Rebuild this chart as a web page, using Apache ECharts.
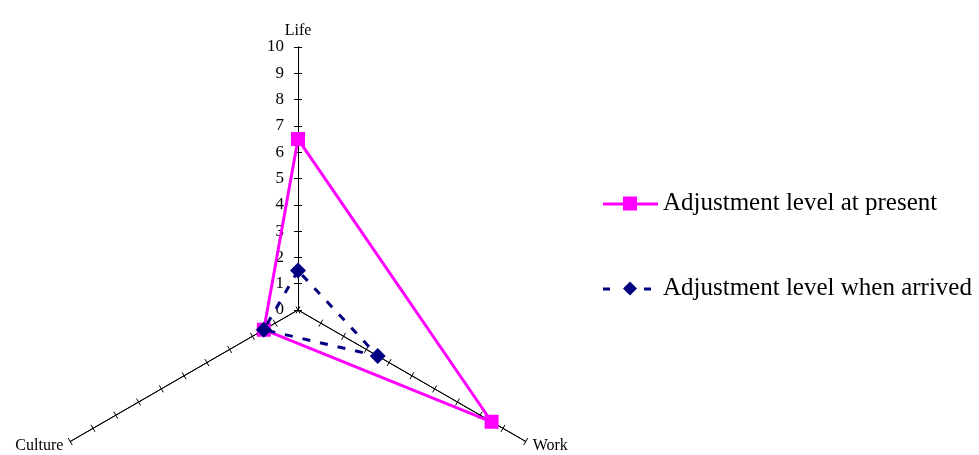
<!DOCTYPE html>
<html lang="en">
<head>
    <meta charset="UTF-8">
    <title>adjustment radar</title>
    <script src="https://cdn.jsdelivr.net/npm/echarts@6/dist/echarts.min.js"></script>
    <style>
        html, body { margin: 0; padding: 0; background: #fff; }
        #chart { width: 979px; height: 455px; }
    </style>
</head>
<body>
<div id="chart"></div>
<script>
    // axes of the radar (echarts lays them out counter-clockwise) and their range
    var dims = ['Life', 'Culture', 'Work'];
    var maxVal = 10;
    // values, same order as dims
    var present = [6.5, 1.5, 8.5];
    var arrived = [1.5, 1.5, 3.5];
    var names = ['Adjustment level at present', 'Adjustment level when arrived'];

    var font = '"Liberation Serif", "Times New Roman", serif';
    var center = [298, 310];
    var radius = 263;

    var indicator = dims.map(function (d) {
        return {name: d, min: 0, max: maxVal};
    });

    function radarBox(tickLen, showName) {
        return {
            center: center,
            radius: radius,
            startAngle: 90,
            splitNumber: 10,
            indicator: indicator,
            shape: 'polygon',
            axisName: {
                show: showName,
                color: '#000',
                fontFamily: font,
                fontSize: 16
            },
            nameGap: 8,
            axisLine: {lineStyle: {color: '#000', width: 1}},
            axisTick: {show: true, length: tickLen, lineStyle: {color: '#000', width: 1}},
            axisLabel: {show: false},
            splitLine: {show: false},
            splitArea: {show: false}
        };
    }

    var chart = echarts.init(document.getElementById('chart'));
    chart.setOption({
        animation: false,
        backgroundColor: '#fff',
        // two identical radars so the ticks cross the axis line
        radar: [radarBox(4, true), radarBox(-4, false)],
        // only used to put the numbers beside the Life axis
        polar: {center: center, radius: radius},
        angleAxis: {type: 'value', startAngle: 90, show: false},
        radiusAxis: {
            type: 'value', min: 0, max: maxVal, interval: 1,
            axisLine: {show: false},
            axisTick: {show: false},
            splitLine: {show: false},
            axisLabel: {color: '#000', fontFamily: font, fontSize: 17, margin: 14}
        },
        legend: {
            orient: 'vertical',
            left: 598,
            top: 186,
            itemGap: 60,
            itemWidth: 55,
            itemHeight: 14,
            textStyle: {color: '#000', fontFamily: font, fontSize: 25},
            data: [
                {name: names[0], icon: 'path://M0,6H55V9H0Z M20,0H34V14H20Z', itemStyle: {color: '#ff00ff'}},
                {name: names[1], icon: 'path://M0,6H7V9H0Z M20,7L27,0L34,7L27,14Z M41,6H48V9H41Z M55,7L55,7Z', itemStyle: {color: '#000080'}}
            ]
        },
        series: [
            {
                name: names[0], type: 'radar', radarIndex: 0,
                symbol: 'rect', symbolSize: 14,
                lineStyle: {color: '#ff00ff', width: 3},
                itemStyle: {color: '#ff00ff'},
                z: 3,
                data: [{value: present, name: names[0]}]
            },
            {
                name: names[1], type: 'radar', radarIndex: 0,
                symbol: 'diamond', symbolSize: 16,
                lineStyle: {color: '#000080', width: 3, type: [8, 10]},
                itemStyle: {color: '#000080'},
                z: 4,
                data: [{value: arrived, name: names[1]}]
            }
        ]
    });
</script>
</body>
</html>
